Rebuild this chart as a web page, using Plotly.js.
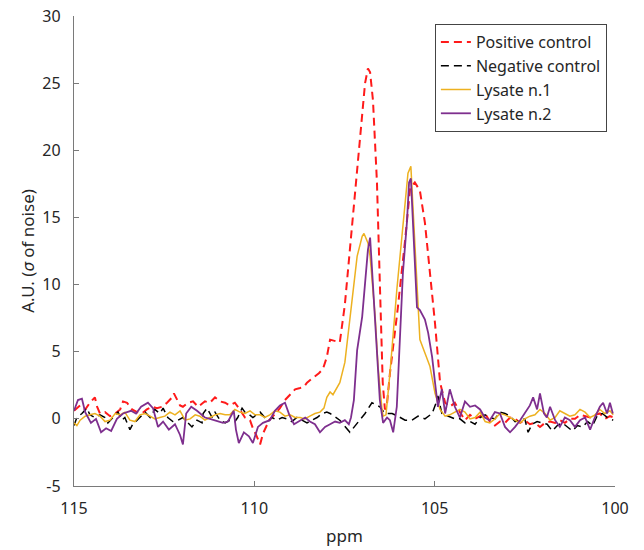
<!DOCTYPE html>
<html>
<head>
<meta charset="utf-8">
<script src="https://cdn.plot.ly/plotly-3.0.1.min.js"></script>
<style>html,body{margin:0;padding:0;background:#fff;}#chart{width:644px;height:550px;}</style>
</head>
<body>
<div id="chart"></div>
<script>
// ---- data (ppm, A.U.) ----
const posPpm = [115.00,114.83,114.69,114.56,114.42,114.36,114.28,114.14,114.00,113.86,113.72,113.64,113.53,113.39,113.25,113.12,112.98,112.84,112.70,112.56,112.42,112.28,112.23,112.14,112.06,111.98,111.84,111.70,111.56,111.42,111.37,111.23,111.09,110.95,110.81,110.68,110.54,110.43,110.34,110.26,110.12,110.04,109.95,109.84,109.76,109.68,109.59,109.45,109.29,109.15,109.01,108.87,108.73,108.62,108.54,108.34,108.21,108.10,107.99,107.90,107.76,107.63,107.49,107.35,107.21,107.07,106.93,106.85,106.79,106.71,106.60,106.52,106.44,106.38,106.33,106.24,106.02,105.82,105.68,105.55,105.41,105.27,105.13,104.99,104.85,104.71,104.58,104.44,104.30,104.16,104.02,103.88,103.74,103.60,103.47,103.33,103.19,103.05,102.91,102.77,102.63,102.50,102.36,102.22,102.08,101.94,101.80,101.66,101.53,101.39,101.25,101.11,100.97,100.83,100.69,100.55,100.42,100.28,100.14,100.02];
const posVal = [0.6,1.0,0.7,1.2,1.6,0.9,0.4,0.5,0.2,0.4,0.7,1.3,1.2,0.7,0.5,0.4,0.7,0.9,0.8,0.9,1.2,1.6,1.9,1.4,1.0,0.9,1.2,1.3,0.9,1.2,1.3,1.2,1.6,1.3,1.2,1.0,1.2,0.8,0.4,0.1,-0.1,-0.7,-1.2,-1.9,-1.1,-0.6,-0.1,0.3,0.8,1.4,1.8,2.2,2.3,2.4,2.7,3.1,3.4,3.7,4.6,5.9,5.8,5.7,8.5,12.5,16.7,20.5,25.0,26.1,25.8,23.7,17.6,10.1,2.7,0.7,0.9,3.4,8.3,13.3,17.2,17.6,17.0,14.6,10.9,7.1,2.7,1.2,0.9,1.2,0.5,-0.1,0.3,0.0,0.2,0.4,-0.2,-0.5,-0.2,-0.3,0.1,0.0,-0.3,-0.1,-0.4,-0.3,-0.6,-0.3,-0.2,-0.3,-0.1,-0.3,0.0,0.0,0.3,0.2,0.1,0.3,0.4,0.0,0.2,0.1];

const negPpm = [115.00,114.92,114.78,114.64,114.56,114.42,114.28,114.14,114.06,113.92,113.78,113.67,113.59,113.45,113.37,113.25,113.12,113.03,112.89,112.76,112.62,112.53,112.40,112.26,112.12,111.98,111.84,111.73,111.59,111.45,111.42,111.31,111.17,111.09,110.95,110.81,110.68,110.54,110.46,110.34,110.26,110.18,110.04,109.84,109.71,109.62,109.51,109.37,109.23,109.10,108.96,108.82,108.68,108.54,108.40,108.26,108.12,107.99,107.90,107.63,107.35,107.15,106.93,106.74,106.52,106.38,106.18,106.02,105.82,105.63,105.46,105.27,105.07,104.96,104.91,104.80,104.63,104.44,104.30,104.16,104.02,103.88,103.74,103.60,103.47,103.33,103.19,103.05,102.91,102.77,102.63,102.50,102.41,102.30,102.16,102.02,101.88,101.74,101.60,101.46,101.32,101.18,101.04,100.90,100.76,100.62,100.48,100.35,100.21,100.05];
const negVal = [-0.5,0.1,0.4,0.8,0.3,0.1,0.3,0.1,-0.3,0.1,0.5,-0.1,0.1,-0.8,-0.4,-0.1,0.3,0.5,0.1,0.7,0.4,0.8,0.1,-0.2,-0.1,0.1,-0.3,-0.6,-0.1,-0.3,0.4,0.8,0.1,0.5,-0.1,-0.3,-0.1,-0.2,0.1,0.8,0.5,0.4,0.1,0.5,0.1,-0.2,0.1,-0.1,0.1,0.0,-0.2,0.1,-0.1,-0.3,-0.1,0.1,0.4,0.5,0.4,-0.1,-1.0,-0.3,0.4,1.2,0.9,0.4,0.4,0.2,-0.1,-0.1,0.2,0.0,0.4,1.2,1.7,0.4,0.2,0.0,0.0,-0.3,-0.2,-0.4,0.1,0.3,0.1,0.0,0.5,0.4,0.2,-0.2,-0.1,0.0,-1.0,-0.4,-0.2,-0.3,-0.4,-0.9,-0.5,-0.3,-0.6,-0.9,-0.5,-0.6,-0.2,-0.5,0.3,0.4,0.1,-0.1];

const ly1Ppm = [115.00,114.92,114.83,114.69,114.56,114.42,114.28,114.14,114.00,113.86,113.72,113.59,113.45,113.31,113.17,113.03,112.89,112.76,112.62,112.48,112.34,112.20,112.06,111.92,111.78,111.64,111.51,111.37,111.23,111.09,110.95,110.81,110.68,110.54,110.40,110.26,110.12,109.98,109.84,109.71,109.57,109.43,109.29,109.15,109.01,108.87,108.73,108.60,108.46,108.32,108.18,108.07,107.99,107.90,107.82,107.63,107.49,107.41,107.29,107.15,107.01,106.96,106.85,106.79,106.65,106.57,106.46,106.43,106.35,106.24,106.05,105.88,105.74,105.66,105.60,105.49,105.41,105.27,105.13,104.99,104.85,104.71,104.58,104.44,104.30,104.16,104.02,103.88,103.74,103.60,103.47,103.33,103.19,103.05,102.91,102.77,102.63,102.50,102.36,102.22,102.08,101.94,101.80,101.66,101.53,101.39,101.25,101.11,100.97,100.83,100.69,100.55,100.42,100.28,100.14,100.05];
const ly1Val = [-0.3,-0.5,-0.1,0.2,0.3,0.4,0.2,-0.2,-0.1,0.4,0.3,0.5,-0.1,-0.2,0.3,0.4,0.2,0.0,0.1,0.2,0.5,0.3,0.6,-0.1,0.0,0.3,0.2,-0.1,0.1,0.3,0.4,0.3,0.3,0.7,0.5,0.4,0.6,0.3,0.3,0.1,0.3,0.6,0.5,0.2,0.3,0.1,0.1,0.0,0.2,0.4,0.5,0.8,1.6,2.0,1.8,2.7,4.2,6.0,8.9,12.1,13.6,13.8,13.1,12.1,7.6,3.9,0.7,0.2,0.3,3.4,9.6,14.6,18.3,18.8,15.8,9.6,5.9,4.9,3.9,1.9,0.7,0.2,0.3,0.5,0.7,0.5,0.0,0.1,0.5,-0.2,-0.3,0.0,0.4,0.3,0.1,-0.1,-0.3,0.0,0.2,0.3,0.7,0.4,-0.1,0.1,0.6,0.4,0.2,0.3,0.7,0.5,0.1,0.3,0.7,0.4,0.6,0.3];

const ly2Ppm = [115.00,114.89,114.78,114.69,114.53,114.39,114.25,114.11,113.97,113.81,113.64,113.42,113.28,113.14,112.95,112.81,112.67,112.53,112.37,112.20,112.06,111.98,111.89,111.75,111.59,111.51,111.37,111.23,111.09,110.87,110.73,110.57,110.51,110.43,110.29,110.15,110.04,109.90,109.76,109.57,109.43,109.29,109.15,109.03,108.90,108.73,108.59,108.46,108.32,108.18,108.04,107.90,107.76,107.63,107.49,107.38,107.32,107.24,107.15,107.01,106.93,106.85,106.79,106.71,106.60,106.52,106.43,106.32,106.24,106.15,106.05,105.96,105.88,105.77,105.71,105.66,105.60,105.55,105.49,105.41,105.27,105.18,105.07,104.99,104.91,104.80,104.71,104.58,104.44,104.30,104.16,104.02,103.88,103.74,103.61,103.47,103.33,103.19,103.05,102.91,102.77,102.63,102.50,102.36,102.27,102.16,102.08,101.97,101.89,101.80,101.66,101.53,101.39,101.25,101.11,100.97,100.83,100.69,100.56,100.42,100.33,100.22,100.14,100.06];
const ly2Val = [0.6,1.4,1.5,0.5,-0.3,0.0,-1.0,-0.7,-0.9,0.0,0.4,0.6,0.4,0.9,1.2,0.8,-0.6,-0.2,-0.8,-0.4,-1.2,-1.9,0.4,0.9,0.6,0.4,0.1,0.0,-0.1,-0.3,-0.2,0.6,-0.8,-1.8,-1.0,-1.3,-1.8,-0.6,-0.3,-0.1,0.6,1.0,1.2,0.3,-0.4,-0.1,0.1,-0.2,-0.4,-1.0,-0.6,-0.4,-0.2,-0.3,-0.1,-0.4,0.1,1.4,5.1,7.6,10.1,12.6,13.5,10.1,5.1,1.4,-0.3,0.1,-0.1,-1.0,0.9,5.9,10.9,14.6,17.6,17.9,14.6,10.9,8.3,8.1,7.4,6.4,4.6,2.7,0.9,2.2,0.4,2.2,0.9,0.1,1.3,0.9,1.0,0.7,0.1,-0.1,0.5,0.4,-0.6,-1.0,-0.6,-0.1,0.4,1.0,1.6,0.7,1.9,0.4,0.1,0.9,-0.1,-0.6,0.1,-0.1,-0.6,-0.1,0.1,-0.8,0.1,0.9,1.2,0.4,1.2,0.4];

const seriesNames = ['Positive control','Negative control','Lysate n.1','Lysate n.2'];
const xTicks = [115,110,105,100];
const yTicks = [-5,0,5,10,15,20,25,30];

const font = 'Noto Sans, Open Sans, sans-serif';
const traces = [
  {x: posPpm, y: posVal, name: seriesNames[0], mode: 'lines', line: {color: '#ff1a1a', width: 2, dash: '8px,5px'}},
  {x: negPpm, y: negVal, name: seriesNames[1], mode: 'lines', line: {color: '#000000', width: 1.5, dash: '8px,5px'}},
  {x: ly1Ppm, y: ly1Val, name: seriesNames[2], mode: 'lines', line: {color: '#EDB120', width: 1.5}},
  {x: ly2Ppm, y: ly2Val, name: seriesNames[3], mode: 'lines', line: {color: '#7E2F8E', width: 1.8}}
];

const axisCommon = {
  showline: true, linecolor: '#7a7a7a', linewidth: 1.2,
  ticks: 'inside', ticklen: 5, tickcolor: '#7a7a7a', tickwidth: 1,
  showgrid: false, zeroline: false, mirror: false,
  tickfont: {family: font, size: 16, color: '#262626'}
};

const layout = {
  width: 644, height: 550,
  margin: {l: 74, r: 29, t: 16, b: 64},
  paper_bgcolor: '#ffffff', plot_bgcolor: '#ffffff',
  font: {family: font, color: '#262626'},
  showlegend: true,
  xaxis: Object.assign({}, axisCommon, {
    range: [115, 100], tickmode: 'array', tickvals: xTicks, ticktext: xTicks.map(String),
    ticklabelstandoff: 8,
    title: {text: 'ppm', font: {family: font, size: 17, color: '#262626'}, standoff: 11}
  }),
  yaxis: Object.assign({}, axisCommon, {
    range: [-5, 30], tickmode: 'array', tickvals: yTicks, ticktext: yTicks.map(String),
    ticklabelstandoff: 9,
    title: {text: 'A.U. (<i>σ</i> of noise)', font: {family: font, size: 17, color: '#262626'}, standoff: 3}
  }),
  legend: {
    x: 0.985, y: 0.983, xanchor: 'right', yanchor: 'top',
    bgcolor: '#ffffff', bordercolor: '#444444', borderwidth: 1,
    font: {family: font, size: 16, color: '#262626'},
    itemwidth: 30, tracegroupgap: 0
  }
};

Plotly.newPlot('chart', traces, layout, {staticPlot: true, displayModeBar: false});
</script>
</body>
</html>
